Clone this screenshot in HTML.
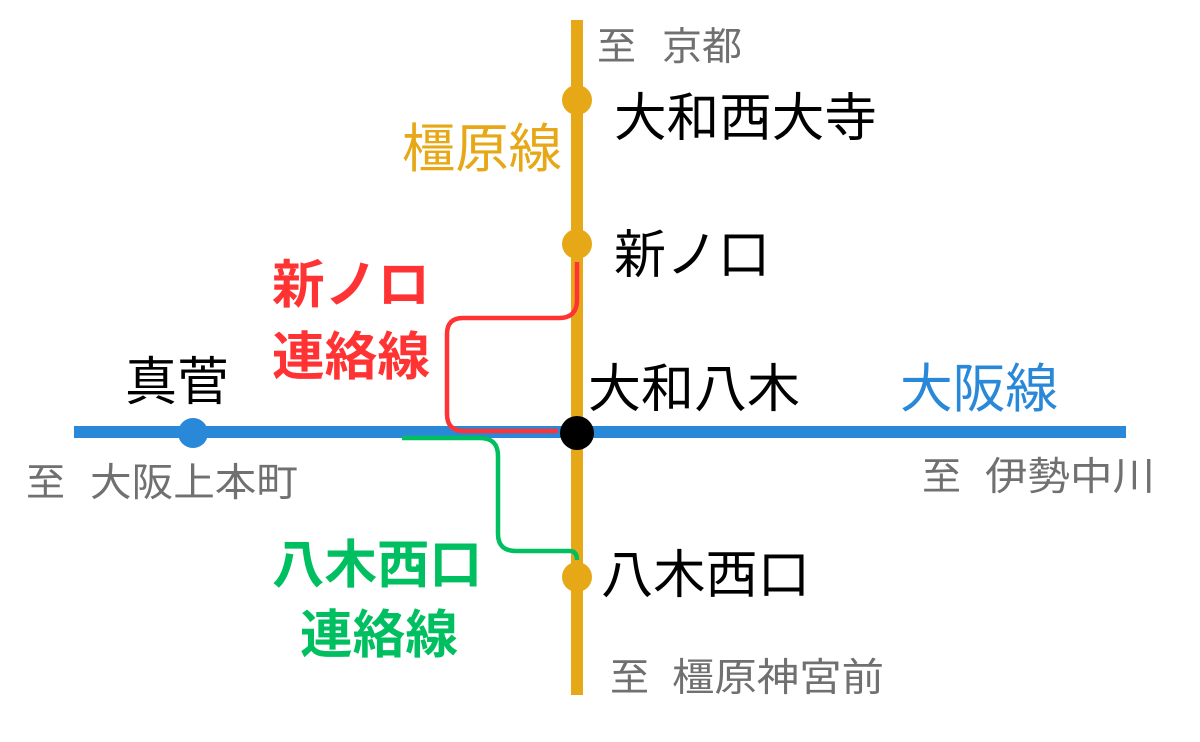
<!DOCTYPE html>
<html><head><meta charset="utf-8"><style>
html,body{margin:0;padding:0;background:#fff;}
svg{display:block;}
text{font-family:"Liberation Sans","Noto Sans CJK JP",sans-serif;}
.g{fill:#707070;font-size:39px;}
.k{fill:#000;font-size:52px;}
.b{font-weight:bold;font-size:52px;}
</style></head><body>
<svg width="1200" height="742" viewBox="0 0 1200 742">
<line x1="577" y1="20" x2="577" y2="695" stroke="#E6A817" stroke-width="12"/>
<line x1="74" y1="432" x2="1126" y2="432" stroke="#2A88D8" stroke-width="12"/>
<path d="M577 262 V300 Q577 318 559 318 H463 Q447 318 447 334 V414 Q447 431 464 431 H558" fill="none" stroke="#FF3333" stroke-width="4.5"/>
<path d="M402 438 H480 Q498 438 498 456 V534 Q498 551 516 551 H570 Q577 551 577 560" fill="none" stroke="#00BF60" stroke-width="4.5"/>
<circle cx="577" cy="100" r="15" fill="#E6A817"/>
<circle cx="577" cy="244" r="15" fill="#E6A817"/>
<circle cx="577" cy="577" r="15" fill="#E6A817"/>
<circle cx="577" cy="433" r="17" fill="#000"/>
<circle cx="193" cy="433" r="15" fill="#2A88D8"/>

<text class="g" x="597" y="60">至</text>
<text class="g" x="662" y="60" textLength="80" lengthAdjust="spacingAndGlyphs">京都</text>
<text class="k" x="614" y="136" textLength="263" lengthAdjust="spacingAndGlyphs">大和西大寺</text>
<text x="402" y="167" font-size="53" fill="#E6A817" textLength="160" lengthAdjust="spacingAndGlyphs">橿原線</text>
<text class="k" x="614" y="273" textLength="156" lengthAdjust="spacingAndGlyphs">新ノ口</text>
<text class="b" x="272" y="303" fill="#FF3333" textLength="158" lengthAdjust="spacingAndGlyphs">新ノロ</text>
<text class="b" x="272" y="375" fill="#FF3333" textLength="158" lengthAdjust="spacingAndGlyphs">連絡線</text>
<text class="k" x="125" y="400" textLength="104" lengthAdjust="spacingAndGlyphs">真菅</text>
<text class="k" x="588" y="407" textLength="212" lengthAdjust="spacingAndGlyphs">大和八木</text>
<text x="900" y="407" font-size="53" fill="#2A88D8" textLength="158" lengthAdjust="spacingAndGlyphs">大阪線</text>
<text class="g" x="26" y="496">至</text>
<text class="g" x="90" y="496" textLength="208" lengthAdjust="spacingAndGlyphs">大阪上本町</text>
<text class="g" x="922" y="490">至</text>
<text class="g" x="985" y="490" textLength="170" lengthAdjust="spacingAndGlyphs">伊勢中川</text>
<text class="b" x="272" y="583" fill="#00BF60" textLength="210" lengthAdjust="spacingAndGlyphs">八木西口</text>
<text class="b" x="300" y="653" fill="#00BF60" textLength="158" lengthAdjust="spacingAndGlyphs">連絡線</text>
<text class="k" x="601" y="593" textLength="209" lengthAdjust="spacingAndGlyphs">八木西口</text>
<text class="g" x="610" y="691">至</text>
<text class="g" x="672" y="691" textLength="212" lengthAdjust="spacingAndGlyphs">橿原神宮前</text>
</svg>
</body></html>
